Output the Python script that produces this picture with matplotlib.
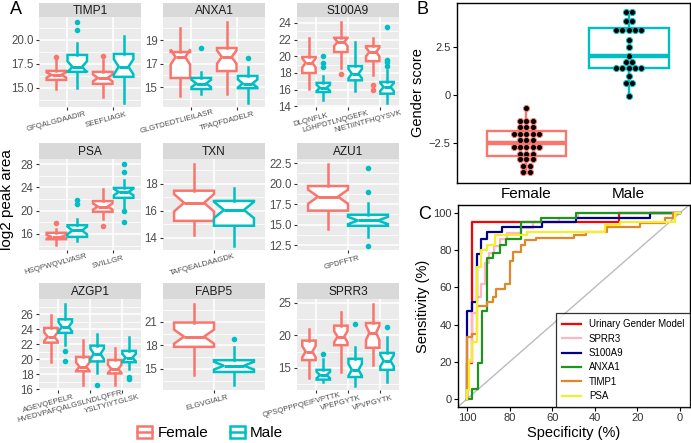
import numpy as np
import matplotlib
matplotlib.use("Agg")
import matplotlib.pyplot as plt
from matplotlib.patches import Patch
from matplotlib.lines import Line2D
from matplotlib.legend_handler import HandlerTuple
from matplotlib.textpath import TextPath
from matplotlib.font_manager import FontProperties
import matplotlib.transforms as mtransforms
from matplotlib.ticker import FixedLocator

plt.rcParams['font.family'] = ['Liberation Sans', 'DejaVu Sans']

# ---------------- data ----------------
# Panel A: per peptide [lower whisker, Q1, median, Q3, upper whisker]
timp1_peptides = ["GFQALGDAADIR", "SEEFLIAGK"]
timp1_female = [[14.9, 15.83, 16.35, 16.77, 17.9], [14.0, 15.42, 16.04, 16.67, 17.9]]
timp1_male = [[15.0, 16.67, 17.2, 18.44, 19.7], [13.4, 16.15, 17.2, 18.54, 20.4]]
timp1_female_out = [[18.2], [18.3]]
timp1_male_out = [[21.0, 21.9], []]

anxa1_peptides = ["GLGTDEDTLIEILASR", "TPAQFDADELR"]
anxa1_female = [[14.2, 15.77, 17.55, 17.98, 20.0], [14.4, 16.36, 17.55, 18.32, 20.5]]
anxa1_male = [[14.4, 14.83, 15.3, 15.77, 16.3], [13.6, 14.9, 15.3, 15.94, 16.7]]
anxa1_female_out = [[], []]
anxa1_male_out = [[18.3], [17.5]]

s100a9_peptides = ["DLQNFLK", "LGHPDTLNQGEFK", "NIETIINTFHQYSVK"]
s100a9_female = [[16.1, 17.98, 19.2, 19.9, 22.2], [18.6, 20.5, 21.7, 22.2, 24.1], [17.8, 19.4, 20.5, 21.2, 22.2]]
s100a9_male = [[14.7, 15.7, 16.2, 16.8, 17.6], [15.8, 17.1, 17.9, 18.8, 21.7], [14.4, 15.5, 16.3, 16.9, 18.3]]
s100a9_female_out = [[], [17.9], [15.9, 16.5]]
s100a9_male_out = [[18.7, 19.2, 20.0], [], [18.8, 19.3, 19.5, 23.5]]

psa_peptides = ["HSQPWQVLVASR", "SVILLGR"]
psa_female = [[14.1, 15.1, 15.5, 16.2, 16.8], [18.6, 19.8, 20.7, 21.65, 23.7]]
psa_male = [[14.8, 15.5, 16.6, 17.5, 18.6], [20.1, 22.2, 23.2, 23.9, 25.3]]
psa_female_out = [[17.9], [17.4]]
psa_male_out = [[21.1, 21.8], [18.1, 19.9, 26.7, 28.0]]

txn_peptides = ["TAFQEALDAAGDK"]
txn_female = [[14.2, 15.26, 16.6, 17.5, 19.5]]
txn_male = [[13.4, 14.9, 16.07, 16.74, 17.7]]
txn_female_out = [[]]
txn_male_out = [[]]

azu1_peptides = ["GPDFFTR"]
azu1_female = [[14.5, 16.7, 18.4, 19.7, 22.4]]
azu1_male = [[13.5, 14.85, 15.5, 16.2, 17.6]]
azu1_female_out = [[]]
azu1_male_out = [[12.4, 19.0, 21.9]]

azgp1_peptides = ["AGEVQEPELR", "HVEDVPAFQALGSLNDLQFFR", "YSLTYIYTGLSK"]
azgp1_female = [[19.6, 22.2, 23.0, 24.15, 25.9], [16.5, 18.4, 19.0, 20.3, 22.5], [16.6, 18.1, 18.7, 19.9, 21.5]]
azgp1_male = [[21.9, 23.5, 24.3, 25.3, 27.3], [18.1, 19.7, 20.7, 21.8, 23.3], [18.7, 19.6, 20.2, 21.1, 23.0]]
azgp1_female_out = [[], [], []]
azgp1_male_out = [[19.8, 21.1], [16.5], [17.3, 17.6]]

fabp5_peptides = ["ELGVGIALR"]
fabp5_female = [[14.2, 17.8, 19.1, 20.9, 23.3]]
fabp5_male = [[13.0, 14.6, 15.4, 16.1, 17.8]]
fabp5_female_out = [[]]
fabp5_male_out = [[18.8]]

sprr3_peptides = ["QPSQPPPQEIFVPTTK", "VPEPGYTK", "VPVPGYTK"]
sprr3_female = [[13.5, 16.2, 17.5, 19.2, 21.0], [14.4, 18.5, 19.8, 21.5, 23.6], [15.5, 18.1, 20.4, 21.9, 24.8]]
sprr3_male = [[12.8, 13.2, 13.9, 14.7, 16.4], [12.2, 13.6, 14.7, 16.4, 18.2], [12.8, 14.7, 16.1, 17.3, 19.7]]
sprr3_female_out = [[], [], []]
sprr3_male_out = [[17.2], [21.8], [21.3]]

# Panel B: gender score (dots) and box statistics
gender_female = [-0.67, -1.35, -1.35, -1.35, -1.69, -1.69, -1.69,
                 -2.04, -2.04, -2.04, -2.04, -2.04, -2.36, -2.36, -2.36,
                 -2.74, -2.74, -2.74, -2.74, -2.74, -3.09, -3.09, -3.09,
                 -3.37, -3.37, -3.37, -3.71, -3.71, -4.05, -4.05]
gender_male = [4.37, 4.37, 3.88, 3.88, 3.41, 3.41, 3.41, 3.41, 3.41, 2.89, 2.53,
               2.04, 1.75, 1.75, 1.43, 1.43, 1.43, 1.43, 1.43, 1.0, 0.64, 0.64, -0.05]
gender_female_box = [-4.07, -3.2, -2.53, -1.87, -0.63]
gender_male_box = [-0.08, 1.4, 2.04, 3.51, 4.37]
groups = ["Female", "Male"]

# Panel C: ROC curves (specificity %, sensitivity %)
roc_names = ["Urinary Gender Model", "SPRR3", "S100A9", "ANXA1", "TIMP1", "PSA"]
roc_model_spec = [100, 100, 97.8, 97.8, 28.5, 28.5, 0]
roc_model_sens = [0, 19.4, 19.4, 95, 95, 100, 100]
roc_sprr3_spec = [100, 100, 97.8, 97.8, 95.5, 95.5, 93.2, 93.2, 91.5, 91.5, 89.8, 89.8, 87.3, 87.3,
                  84.7, 84.7, 81.1, 81.1, 74.6, 74.6, 69, 69, 57, 57, 48, 48, 0]
roc_sprr3_sens = [0, 20, 20, 46, 46, 55, 55, 62, 62, 73, 73, 78.5, 78.5, 82.4,
                  82.4, 86, 86, 89, 89, 92, 92, 95, 95, 97.3, 97.3, 100, 100]
roc_s100a9_spec = [100, 100, 97.8, 97.8, 95.5, 95.5, 93.5, 93.5, 90.6, 90.6, 83.6, 83.6, 65, 65, 49, 49, 14.1, 14.1, 0]
roc_s100a9_sens = [0, 47.5, 47.5, 52.3, 52.3, 78.1, 78.1, 86, 86, 89.6, 89.6, 92.5, 92.5, 95, 95, 97.3, 97.3, 100, 100]
roc_anxa1_spec = [100, 97.8, 97.8, 95, 95, 92.9, 92.9, 90.6, 90.6, 87.7, 87.7, 84.7, 84.7, 81.5, 81.5,
                  74.6, 74.6, 65.2, 65.2, 49, 49, 0]
roc_anxa1_sens = [0, 0, 5.2, 5.2, 19.2, 19.2, 47.5, 47.5, 76, 76, 78.3, 78.3, 83, 83, 86.2,
                  86.2, 95, 95, 97.3, 97.3, 100, 100]
roc_timp1_spec = [100, 100, 97.8, 97.8, 95.5, 95.5, 90.8, 90.8, 88, 88, 86.2, 86.2, 82.3, 82.3, 80, 80,
                  78.5, 78.5, 74.6, 74.6, 72.6, 72.6, 67.6, 67.6, 49.8, 49.8, 44.3, 44.3, 34.3, 34.3,
                  18.8, 18.8, 7.1, 7.1, 3.3, 3.3, 0]
roc_timp1_sens = [0, 33.5, 33.5, 35, 35, 50, 50, 52.3, 52.3, 55, 55, 59, 59, 62, 62, 74,
                  74, 79, 79, 83, 83, 85.5, 85.5, 86.5, 86.5, 88, 88, 90, 90, 92.5,
                  92.5, 94.6, 94.6, 97.3, 97.3, 100, 100]
roc_psa_spec = [100, 100, 99, 99, 97.8, 97.8, 95.5, 95.5, 93.2, 93.2, 90.6, 90.6, 87, 87, 72, 72,
                35, 35, 28, 28, 2.5, 2.5, 0]
roc_psa_sens = [0, 5, 5, 21, 21, 30.8, 30.8, 71, 71, 80, 80, 83, 83, 88, 88, 90,
                90, 93.5, 93.5, 95.3, 95.3, 100, 100]

# ---------------- styles ----------------
W, H = 691, 443
FCOL = '#F8766D'
MCOL = '#00BFC4'
fig = plt.figure(figsize=(W / 100, H / 100), dpi=100)


def ax_px(x0, y0, x1, y1):
    return fig.add_axes([x0 / W, 1 - y1 / H, (x1 - x0) / W, (y1 - y0) / H])


COL_X = [39, 163, 297]
PW = 102
ROW_Y = [(3, 17, 107), (143, 159, 250), (283, 299, 390)]
XFS = 5.6
ANG = 15
fp_x = FontProperties(family=['Liberation Sans'], size=XFS)
n_f = len(gender_female)
n_m = len(gender_male)


def stats_dict(s, out, n):
    lo, q1, med, q3, hi = s
    ci = 1.58 * (q3 - q1) / np.sqrt(n)
    return dict(whislo=lo, q1=q1, med=med, q3=q3, whishi=hi, fliers=out,
                cilo=med - ci, cihi=med + ci)


def draw_facet(col, row, title, peptides, fem, mal, fem_out, mal_out, ylim, ticks):
    x0 = COL_X[col]
    st, pt, pb = ROW_Y[row]
    ax = ax_px(x0, pt, x0 + PW, pb)
    sax = ax_px(x0, st, x0 + PW, pt)
    sax.set_facecolor('#D9D9D9')
    sax.set_xticks([]); sax.set_yticks([])
    for s in sax.spines.values():
        s.set_visible(False)
    sax.text(0.5, 0.45, title, ha='center', va='center', fontsize=8.6, color='#1A1A1A',
             transform=sax.transAxes)

    ax.set_facecolor('#EBEBEB')
    for s in ax.spines.values():
        s.set_visible(False)
    n = len(peptides)
    pos = np.arange(1, n + 1)
    bw = 0.42 if n > 1 else 0.47
    off = 0.225 if n > 1 else 0.235
    lw = 1.8
    for data, outs, col_, sign, nn in [(fem, fem_out, FCOL, -1, n_f), (mal, mal_out, MCOL, 1, n_m)]:
        st_ = [stats_dict(s, o, nn) for s, o in zip(data, outs)]
        ax.bxp(st_, positions=pos + sign * off, widths=bw, shownotches=True, showcaps=False,
               patch_artist=True,
               boxprops=dict(facecolor='white', edgecolor=col_, linewidth=lw),
               whiskerprops=dict(color=col_, linewidth=lw),
               medianprops=dict(color=col_, linewidth=lw * 1.2),
               flierprops=dict(marker='o', markerfacecolor=col_, markeredgecolor=col_,
                               markersize=3.0, linestyle='none'),
               manage_ticks=False)
    ax.set_xlim(0.4, n + 0.6)
    ax.set_ylim(*ylim)
    ax.set_axisbelow(True)
    step = ticks[1] - ticks[0]
    minors = np.arange(ticks[0] - step * 2.5, ticks[-1] + step * 3, step)
    minors = [m for m in minors if ylim[0] < m < ylim[1]]
    ax.yaxis.set_minor_locator(FixedLocator(minors))
    ax.set_yticks(ticks)
    fmt = '%.1f' if any(abs(t - round(t)) > 1e-9 for t in ticks) else '%d'
    ax.set_yticklabels([fmt % t for t in ticks])
    ax.set_xticks(pos)
    ax.set_xticklabels([''] * n)
    ax.grid(True, which='major', color='white', linewidth=1.1)
    ax.grid(True, which='minor', axis='y', color='white', linewidth=0.55)
    ax.tick_params(axis='both', which='major', length=2.5, width=0.8, color='#333333',
                   labelsize=8.3, labelcolor='#4D4D4D', pad=1.5)
    ax.tick_params(axis='both', which='minor', length=0)
    trans = mtransforms.blended_transform_factory(ax.transData, ax.transAxes)
    a = np.deg2rad(ANG)
    for p, lab in zip(pos, peptides):
        L = TextPath((0, 0), lab, size=XFS, prop=fp_x).get_extents().width
        sh = 0.2 * L
        t = mtransforms.offset_copy(trans, fig=fig, x=-sh * np.cos(a), y=-sh * np.sin(a) - 5.5,
                                    units='points')
        ax.text(p, 0, lab, transform=t, rotation=ANG, rotation_mode='anchor', ha='center',
                va='top', fontsize=XFS, color='#4D4D4D')
    return ax


facets = [
    (0, 0, "TIMP1", timp1_peptides, timp1_female, timp1_male, timp1_female_out, timp1_male_out, (13.0, 22.4), [15, 17.5, 20]),
    (1, 0, "ANXA1", anxa1_peptides, anxa1_female, anxa1_male, anxa1_female_out, anxa1_male_out, (13.3, 20.96), [15, 17, 19]),
    (2, 0, "S100A9", s100a9_peptides, s100a9_female, s100a9_male, s100a9_female_out, s100a9_male_out, (13.9, 24.7), [14, 16, 18, 20, 22, 24]),
    (0, 1, "PSA", psa_peptides, psa_female, psa_male, psa_female_out, psa_male_out, (13.25, 28.86), [16, 20, 24, 28]),
    (1, 1, "TXN", txn_peptides, txn_female, txn_male, txn_female_out, txn_male_out, (13.1, 19.85), [14, 16, 18]),
    (2, 1, "AZU1", azu1_peptides, azu1_female, azu1_male, azu1_female_out, azu1_male_out, (11.9, 23.0), [12.5, 15, 17.5, 20, 22.5]),
    (0, 2, "AZGP1", azgp1_peptides, azgp1_female, azgp1_male, azgp1_female_out, azgp1_male_out, (15.9, 28.0), [16, 18, 20, 22, 24, 26]),
    (1, 2, "FABP5", fabp5_peptides, fabp5_female, fabp5_male, fabp5_female_out, fabp5_male_out, (12.3, 23.9), [15, 18, 21]),
    (2, 2, "SPRR3", sprr3_peptides, sprr3_female, sprr3_male, sprr3_female_out, sprr3_male_out, (11.6, 25.6), [15, 20, 25]),
]
for f in facets:
    draw_facet(*f)

fig.text(7 / W, 1 - 200 / H, "log2 peak area", rotation=90, ha='center', va='center', fontsize=11)
fig.text(10 / W, 1 - 1 / H, "A", ha='left', va='top', fontsize=13)

handles = [(Patch(facecolor='white', edgecolor=FCOL, linewidth=1.8), Line2D([], [], color=FCOL, lw=1.8)),
           (Patch(facecolor='white', edgecolor=MCOL, linewidth=1.8), Line2D([], [], color=MCOL, lw=1.8))]
fig.legend(handles, groups, loc='center', bbox_to_anchor=(210 / W, 1 - 433 / H), ncol=2,
           frameon=False, fontsize=11, handler_map={tuple: HandlerTuple(ndivide=1)},
           handlelength=1.0, handleheight=0.9, handletextpad=0.35, columnspacing=1.4)

# ---------------- Panel B ----------------
axB = ax_px(457, 3, 690, 183)
for s_, c_, p_ in [(gender_female_box, FCOL, 1), (gender_male_box, MCOL, 2)]:
    lo, q1, med, q3, hi = s_
    axB.bxp([dict(whislo=lo, q1=q1, med=med, q3=q3, whishi=hi, fliers=[])], positions=[p_],
            widths=0.78, showcaps=False, showfliers=False, patch_artist=True,
            boxprops=dict(facecolor='white', edgecolor=c_, linewidth=1.7),
            whiskerprops=dict(color=c_, linewidth=1.7),
            medianprops=dict(color=c_, linewidth=3.2), manage_ticks=False)


def dot_x(values, center, step):
    vals = np.array(values)
    xs = np.zeros_like(vals, dtype=float)
    for v in np.unique(vals):
        idx = np.where(vals == v)[0]
        k = len(idx)
        xs[idx] = center + (np.arange(k) - (k - 1) / 2) * step
    return xs


axB.scatter(dot_x(gender_female, 1, 0.0615), gender_female, s=19, c='black', edgecolors=FCOL,
            linewidths=0.7, zorder=5)
axB.scatter(dot_x(gender_male, 2, 0.0615), gender_male, s=19, c='black', edgecolors=MCOL,
            linewidths=0.7, zorder=5)
axB.set_xlim(0.32, 2.6)
axB.set_ylim(-4.61, 4.82)
axB.set_yticks([-2.5, 0, 2.5])
axB.set_yticklabels(['\u22122.5', '0', '2.5'])
axB.set_xticks([1, 2])
axB.set_xticklabels(groups)
axB.tick_params(axis='y', length=3, width=0.8, labelsize=8, labelcolor='#333333', pad=1.5)
axB.tick_params(axis='x', length=0, labelsize=11, labelcolor='black', pad=3)
for s in axB.spines.values():
    s.set_linewidth(1.0)
axB.set_ylabel("Gender score", fontsize=10.5, labelpad=3)
fig.text(417 / W, 1 - 1 / H, "B", ha='left', va='top', fontsize=13)

# ---------------- Panel C ----------------
axC = ax_px(458, 205, 690, 407)
roc_specs = [roc_model_spec, roc_sprr3_spec, roc_s100a9_spec, roc_anxa1_spec, roc_timp1_spec, roc_psa_spec]
roc_senss = [roc_model_sens, roc_sprr3_sens, roc_s100a9_sens, roc_anxa1_sens, roc_timp1_sens, roc_psa_sens]
roc_colors = ['#FF0000', '#FFB6C1', '#00008B', '#1E961E', '#E0872A', '#F5EE2A']
axC.axline((100, 0), (0, 100), color='#BBBBBB', lw=1.0, zorder=1)
for sp_, se_, c_, n_ in zip(roc_specs, roc_senss, roc_colors, roc_names):
    axC.plot(sp_, se_, color=c_, lw=1.6, label=n_, zorder=3)
axC.set_xlim(104.2, -4.7)
axC.set_ylim(-4.3, 104.3)
axC.set_xticks([100, 80, 60, 40, 20, 0])
axC.set_yticks([0, 20, 40, 60, 80, 100])
axC.tick_params(axis='both', length=3, width=0.8, labelsize=8, labelcolor='#333333', pad=1.5)
for s in axC.spines.values():
    s.set_linewidth(1.0)
axC.set_xlabel("Specificity (%)", fontsize=10.5, labelpad=2)
axC.set_ylabel("Sensitivity (%)", fontsize=10.5, labelpad=2)
leg = axC.legend(loc='lower right', bbox_to_anchor=(1.0, 0.0), borderaxespad=0, fontsize=7,
                 frameon=True, fancybox=False, edgecolor='black', handlelength=2.0,
                 handletextpad=0.8, labelspacing=0.45, borderpad=0.6)
leg.get_frame().set_linewidth(0.9)
fig.text(418 / W, 1 - 206 / H, "C", ha='left', va='top', fontsize=13)

fig.savefig("out.png", dpi=100)
